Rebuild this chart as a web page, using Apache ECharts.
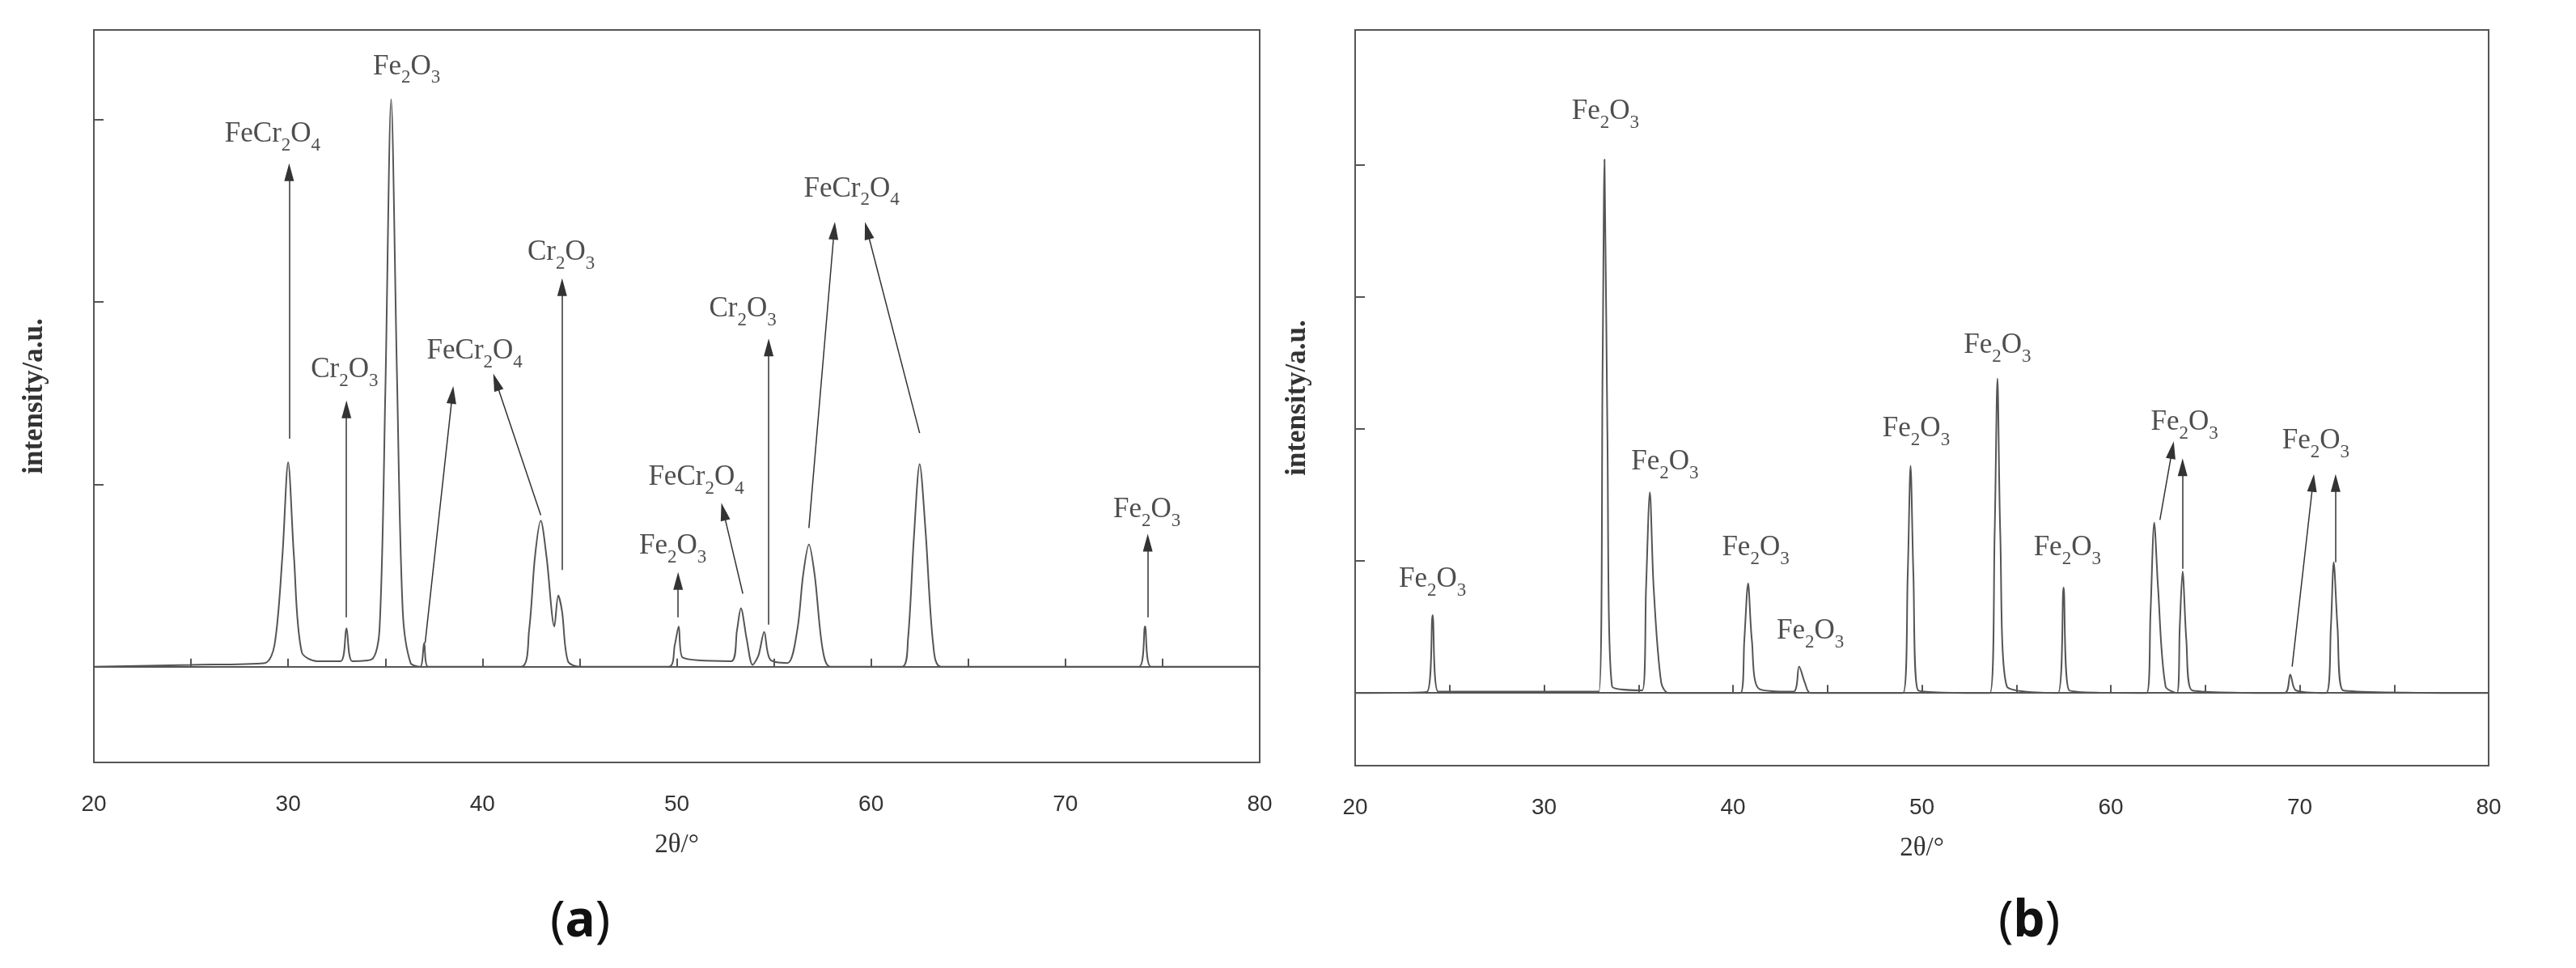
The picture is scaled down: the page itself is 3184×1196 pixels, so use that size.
<!DOCTYPE html>
<html><head><meta charset="utf-8">
<script src="https://cdn.jsdelivr.net/npm/echarts@6/dist/echarts.min.js"></script>
<style>html,body{margin:0;background:#fff}#c{width:3184px;height:1196px}</style>
</head><body><div id="c"></div>
<script>
const xTicks = [20,30,40,50,60,70,80];
const leftCurve = [[20,0],[25,0.01],[28.8,0.02],[29.3,0.12],[29.7,0.6],[30.0,1.12],[30.3,0.6],[30.7,0.08],[31.5,0.03],[32.7,0.03],[33.0,0.21],[33.3,0.03],[34.3,0.04],[34.7,0.2],[35.0,1.5],[35.3,3.11],[35.6,1.6],[35.9,0.3],[36.3,0.02],[36.8,0.0],[37.0,0.13],[37.2,0.0],[42.0,0.0],[42.4,0.2],[42.7,0.6],[43.0,0.80],[43.3,0.6],[43.7,0.22],[43.9,0.39],[44.1,0.3],[44.4,0.03],[45,0.0],[49.6,0.0],[49.9,0.12],[50.1,0.22],[50.3,0.05],[52.8,0.03],[53.1,0.2],[53.3,0.32],[53.6,0.15],[53.9,0.01],[54.2,0.06],[54.5,0.19],[54.8,0.04],[55.7,0.02],[56.2,0.2],[56.5,0.5],[56.8,0.67],[57.1,0.5],[57.5,0.1],[57.9,0.0],[61.6,0.0],[61.9,0.15],[62.2,0.7],[62.5,1.11],[62.8,0.75],[63.2,0.12],[63.6,0.0],[73.8,0.0],[74.1,0.22],[74.4,0.0],[80,0.0]];
const rightCurve = [[20,0],[23.8,0.01],[24.1,0.59],[24.4,0.01],[32.9,0.01],[33.1,2.5],[33.2,4.04],[33.35,2.0],[33.6,0.05],[35.2,0.02],[35.4,0.8],[35.6,1.52],[35.8,0.8],[36.2,0.08],[36.6,0],[40.4,0],[40.6,0.4],[40.8,0.83],[41.0,0.4],[41.4,0.03],[43.2,0.01],[43.5,0.2],[43.8,0.08],[44.1,0],[49.0,0],[49.25,0.9],[49.4,1.72],[49.55,0.9],[49.8,0.02],[53.6,0],[53.85,1.2],[54.0,2.38],[54.15,1.2],[54.5,0.05],[57.2,0],[57.5,0.8],[57.8,0.02],[61.9,0],[62.1,0.6],[62.3,1.29],[62.5,0.8],[62.9,0.05],[63.5,0],[63.65,0.5],[63.8,0.92],[64.0,0.4],[64.3,0.02],[69.2,0],[69.5,0.14],[69.8,0.02],[71.4,0],[71.65,0.5],[71.8,0.99],[72.0,0.5],[72.3,0.02],[80,0]];
const leftLabels = [['FeCr2O4',29.2,2.89],['Cr2O3',32.9,1.60],['Fe2O3',36.1,3.26],['FeCr2O4',39.6,1.70],['Cr2O3',44.05,2.24],['Fe2O3',49.8,0.63],['FeCr2O4',51.0,1.01],['Cr2O3',53.4,1.93],['FeCr2O4',59.0,2.59],['Fe2O3',74.2,0.83]];
const leftArrows = [[30.05,1.25,30.05,2.71],[33.0,0.27,33.0,1.41],[37.05,0.13,38.45,1.49],[43.0,0.83,40.7,1.56],[44.1,0.53,44.1,2.08],[50.07,0.27,50.07,0.47],[53.4,0.40,52.4,0.85],[54.73,0.23,54.73,1.75],[56.8,0.76,58.1,2.39],[62.5,1.28,59.8,2.39],[74.24,0.27,74.24,0.68]];
const rightLabels = [['Fe2O3',24.1,0.82],['Fe2O3',33.25,4.36],['Fe2O3',36.4,1.71],['Fe2O3',41.2,1.06],['Fe2O3',44.1,0.43],['Fe2O3',49.7,1.96],['Fe2O3',54.0,2.59],['Fe2O3',57.7,1.06],['Fe2O3',63.9,2.01],['Fe2O3',70.85,1.87]];
const rightArrows = [[62.6,1.31,63.25,1.84],[63.8,0.94,63.8,1.71],[69.6,0.2,70.7,1.59],[71.9,0.99,71.9,1.59]];
const leftYTicks = [0,1,2,3];
const rightYTicks = [0,1,2,3,4];

function rich(name){
  return name.replace(/([A-Za-z]+)(\d)/g,'{n|$1}{s|$2}');
}
const richStyle = {
  n:{fontFamily:'Liberation Serif',fontSize:35,color:'#222',verticalAlign:'top',lineHeight:48},
  s:{fontFamily:'Liberation Serif',fontSize:23,color:'#222',verticalAlign:'top',lineHeight:48,padding:[20,0,0,0]}
};
function grids(){
  return [
    {left:116,right:1627,top:37,bottom:254,show:true,borderColor:'#555',borderWidth:2},
    {left:1675,right:108,top:37,bottom:250,show:true,borderColor:'#555',borderWidth:2}
  ];
}
function xAxis(i){
  return {type:'value',gridIndex:i,min:20,max:80,interval:10,
    axisLine:{lineStyle:{color:'#555',width:2}},
    axisTick:{inside:true,length:10,lineStyle:{color:'#555',width:2}},
    minorTick:{show:true,splitNumber:2,length:10,lineStyle:{color:'#555',width:2}},
    splitLine:{show:false},
    axisLabel:{margin:38,fontSize:28,color:'#333',fontFamily:'Liberation Sans',
      customValues: xTicks},
    name:'2θ/°',nameLocation:'middle',nameGap:86,
    nameTextStyle:{fontFamily:'Liberation Serif',fontSize:33,color:'#333'}};
}
function yAxis(i,min,max,ticks){
  return {type:'value',gridIndex:i,min:min,max:max,
    axisLine:{show:true,lineStyle:{color:'#555',width:2}},
    axisTick:{inside:true,length:12,customValues:ticks,lineStyle:{color:'#555',width:2}},
    axisLabel:{show:false},splitLine:{show:false},
    name:'intensity/a.u.',nameLocation:'middle',nameGap:i===0?56:54,
    nameTextStyle:{fontFamily:'Liberation Serif',fontSize:35,fontWeight:'bold',color:'#333'}};
}
function curve(i,d){
  return {type:'line',xAxisIndex:i,yAxisIndex:i,data:d,showSymbol:false,smooth:0.3,
    lineStyle:{color:'#555',width:2},z:3,
    markLine:{silent:true,symbol:['none','triangle'],symbolSize:[12,22],
      lineStyle:{color:'#333',width:1.5,type:'solid'},label:{show:false},
      data:(i===0?leftArrows:rightArrows).map(a=>[{coord:[a[0],a[1]]},{coord:[a[2],a[3]]}])}};
}
function labels(i,L){
  return {type:'scatter',xAxisIndex:i,yAxisIndex:i,symbolSize:0,z:5,
    data:L.map(l=>({value:[l[1],l[2]],name:l[0]})),
    label:{show:true,position:'inside',formatter:p=>rich(p.name),rich:richStyle}};
}
const chart = echarts.init(document.getElementById('c'));
chart.setOption({
  animation:false,
  grid:grids(),
  xAxis:[xAxis(0),xAxis(1)],
  yAxis:[yAxis(0,-0.525,3.49,leftYTicks),yAxis(1,-0.55,5.02,rightYTicks)],
  series:[curve(0,leftCurve),curve(1,rightCurve),labels(0,leftLabels),labels(1,rightLabels)],
  graphic:[
    {type:'text',left:680,top:1108,style:{text:'({a|a})',rich:{a:{fontWeight:'bold',fontSize:62,fontFamily:'Noto Sans'}},fontSize:62,fontFamily:'Noto Sans',fill:'#111'}},
    {type:'text',left:2470,top:1108,style:{text:'({a|b})',rich:{a:{fontWeight:'bold',fontSize:62,fontFamily:'Noto Sans'}},fontSize:62,fontFamily:'Noto Sans',fill:'#111'}}
  ]
});
</script></body></html>
